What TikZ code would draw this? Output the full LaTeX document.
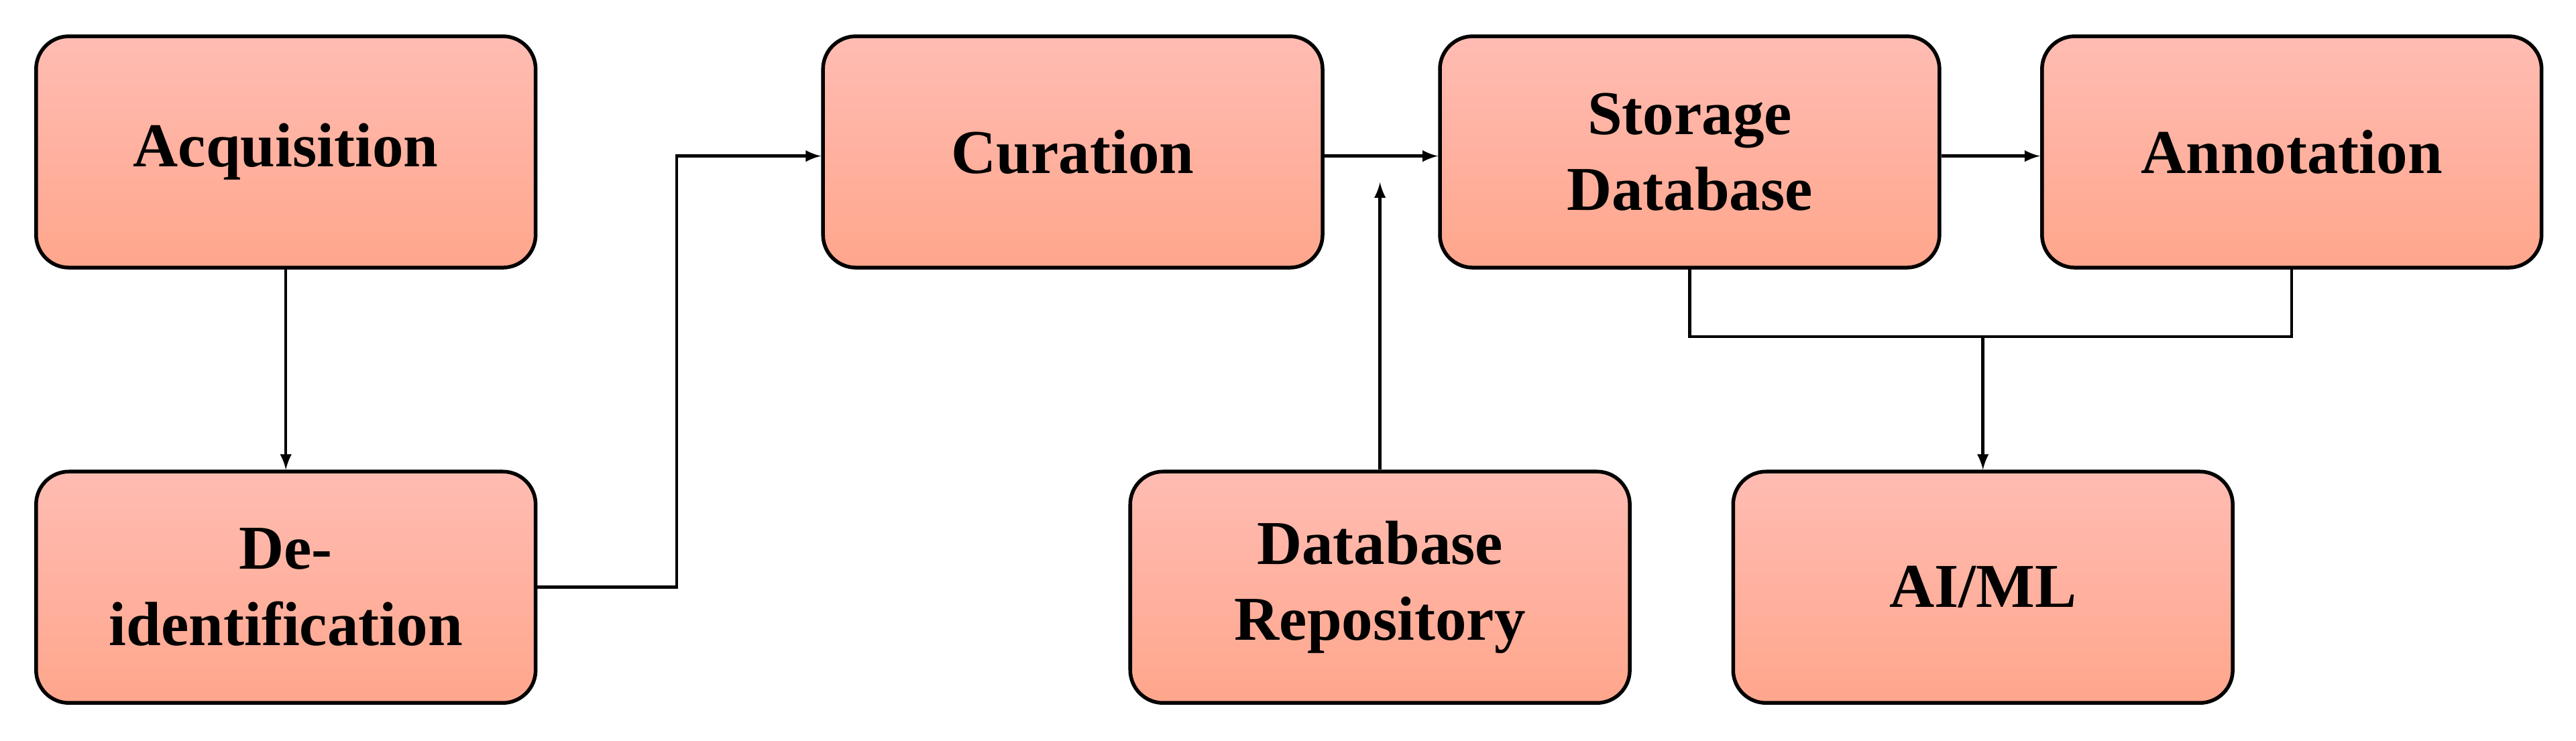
\documentclass[tikz,border=0pt]{standalone}
\usepackage{fontspec}
\setmainfont{Liberation Serif}
\usepackage{tikz}
\usetikzlibrary{positioning}

\begin{document}
\begin{tikzpicture}[x=0.025cm,y=-0.025cm,
        stepnode/.style={rectangle, rounded corners=0.5cm, draw=black, line width=1.6pt, top color=orange!25!red!30!white, bottom color=orange!45!red!45!white, minimum width=7.6cm, minimum height=3.52cm, align=center, font=\fontsize{27}{33}\selectfont\bfseries},
        link/.style={line width=1.3pt, -latex}]

        \useasboundingbox (0,0) rectangle (1568,451);

        \node[stepnode] (acq) at (174,92.5) {Acquisition};
        \node[stepnode] (deid) at (174,357.5) {De-\\identification};
        \node[stepnode] (cur) at (653,92.5) {Curation};
        \node[stepnode] (stor) at (1028.5,92.5) {Storage\\Database};
        \node[stepnode] (ann) at (1395,92.5) {Annotation};
        \node[stepnode] (repo) at (840,357.5) {Database\\Repository};
        \node[stepnode] (aiml) at (1207,357.5) {AI/ML};

        \coordinate (join) at (840,95);
        \coordinate (split) at (1207,205);

        \draw[link] (acq) -- (deid);
        \draw[link] (deid.east) -- (412,357.5) -- (412,95) -- (cur.west |- 0,95);
        \draw[link] (cur.east |- 0,95) -- (stor.west |- 0,95);
        \draw[link] (repo) -- ([yshift=-0.4cm]join);
        \draw[link] (stor.east |- 0,95) -- (ann.west |- 0,95);
        \draw[line width=1.3pt] (stor.south) -- (1028.5,205) -- (1395,205) -- (ann.south);
        \draw[link] (split) -- (aiml);

\end{tikzpicture}
\end{document}
